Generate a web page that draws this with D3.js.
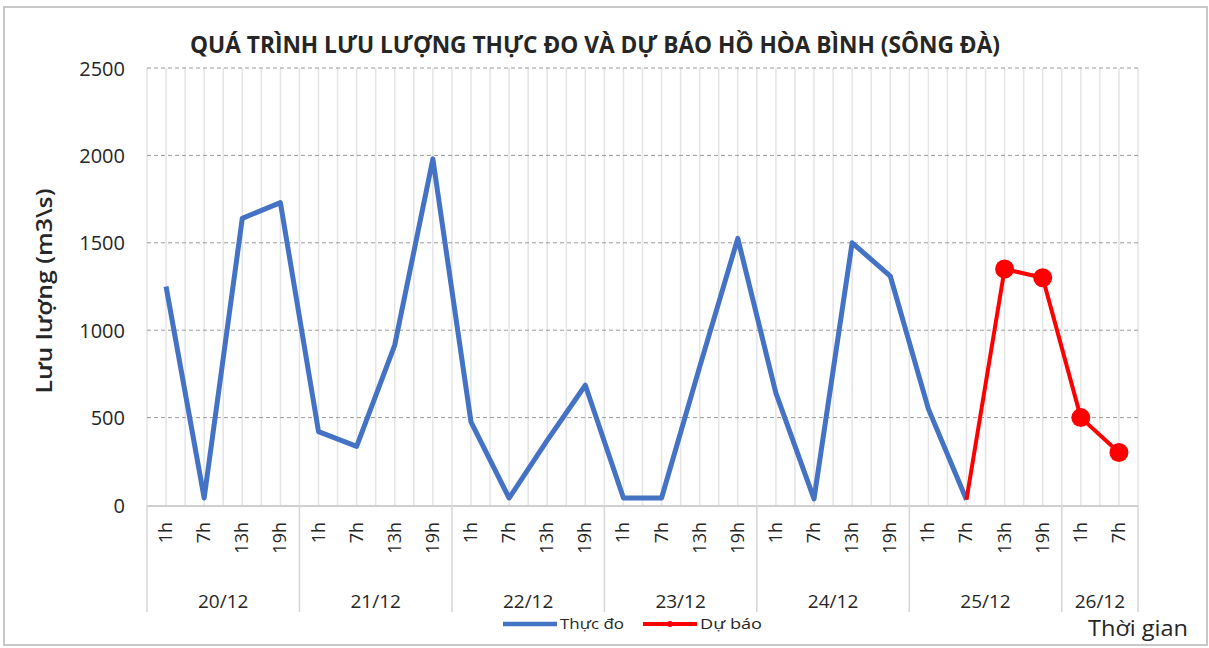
<!DOCTYPE html>
<html>
<head>
<meta charset="utf-8">
<script src="https://cdn.jsdelivr.net/npm/d3@7"></script>
<style>
  html, body { margin: 0; padding: 0; background: #fff; }
  svg { display: block; }
  text { font-family: "Open Sans", "Noto Sans", sans-serif; fill: #262626; }
</style>
</head>
<body>
<svg id="chart" width="1209" height="648"></svg>
<script>
// ---- data ----
const titleText = "QUÁ TRÌNH LƯU LƯỢNG THỰC ĐO VÀ DỰ BÁO HỒ HÒA BÌNH (SÔNG ĐÀ)";
const yTitle = "Lưu lượng (m3\\s)";
const xTitle = "Thời gian";
const hourLabels = ["1h","7h","13h","19h","1h","7h","13h","19h","1h","7h","13h","19h",
                    "1h","7h","13h","19h","1h","7h","13h","19h","1h","7h","13h","19h","1h","7h"];
const dayLabels = ["20/12","21/12","22/12","23/12","24/12","25/12","26/12"];
const dayCounts = [4,4,4,4,4,4,2];
const observed = [1250,40,1640,1730, 420,335,915,1980, 475,40,370,685,
                  40,40,790,1525, 640,35,1500,1310, 550,30, null,null,null,null];
const forecast = [null,null,null,null, null,null,null,null, null,null,null,null,
                  null,null,null,null, null,null,null,null, null,30, 1350,1300,500,300];
const yTicks = [0,500,1000,1500,2000,2500];
const seriesNames = ["Thực đo","Dự báo"];
const seriesColors = ["#4472C4","#FF0000"];

// ---- layout ----
const svg = d3.select("#chart");
const W = 1209, H = 648;
const plot = {left: 147, right: 1138, top: 68, bottom: 505};

// border
svg.append("rect").attr("x", 4).attr("y", 7).attr("width", W - 6).attr("height", H - 10)
   .attr("fill", "#fff").attr("stroke", "#c8c8c8").attr("stroke-width", 2);

const idx = d3.range(hourLabels.length);
const x = d3.scaleBand().domain(idx).range([plot.left, plot.right]).padding(0);
const y = d3.scaleLinear().domain([0, 2500]).range([plot.bottom, plot.top]);
const bw = x.bandwidth();

// vertical gridlines: band edges and centres
const vlines = [];
idx.forEach(i => { vlines.push(x(i)); vlines.push(x(i) + bw / 2); });
vlines.push(x(idx.length - 1) + bw);
svg.append("g").selectAll("line").data(vlines).join("line")
   .attr("x1", d => d).attr("x2", d => d)
   .attr("y1", plot.top).attr("y2", plot.bottom)
   .attr("stroke", "#e4e4e4").attr("stroke-width", 1.5);

// horizontal dashed gridlines
svg.append("g").selectAll("line").data(yTicks.filter(t => t > 0)).join("line")
   .attr("x1", plot.left).attr("x2", plot.right)
   .attr("y1", d => y(d)).attr("y2", d => y(d))
   .attr("stroke", "#9a9a9a").attr("stroke-width", 1).attr("stroke-dasharray", "4,3");

// y axis labels
const yAxis = d3.axisLeft(y).tickValues(yTicks).tickFormat(d3.format("d")).tickSize(0).tickPadding(22);
const yg = svg.append("g").attr("transform", `translate(${plot.left},0)`).call(yAxis);
yg.select(".domain").remove();
yg.selectAll("text").style("font-size", "20px").style("font-family", '"Open Sans", sans-serif')
  .attr("fill", "#404040").attr("dy", "0.35em");

// x axis line
svg.append("line").attr("x1", plot.left).attr("x2", plot.right)
   .attr("y1", plot.bottom + 1).attr("y2", plot.bottom + 1)
   .attr("stroke", "#d0d0d0").attr("stroke-width", 2);

// day separators in axis area
let starts = [0];
dayCounts.forEach((c, i) => starts.push(starts[i] + c));
const sepX = starts.map(s => s < idx.length ? x(s) : x(idx.length - 1) + bw);
svg.append("g").selectAll("line").data(sepX).join("line")
   .attr("x1", d => d).attr("x2", d => d)
   .attr("y1", plot.bottom).attr("y2", 612)
   .attr("stroke", "#d6d6d6").attr("stroke-width", 1.5);

// hour labels (rotated)
svg.append("g").selectAll("text").data(idx).join("text")
   .attr("transform", i => `translate(${x(i) + bw / 2 + 6},${plot.bottom + 17}) rotate(-90)`)
   .attr("text-anchor", "end")
   .style("font-size", "18px")
   .text(i => hourLabels[i]);

// day labels
svg.append("g").selectAll("text").data(dayLabels).join("text")
   .attr("x", (d, i) => (sepX[i] + sepX[i + 1]) / 2)
   .attr("y", 608)
   .attr("text-anchor", "middle")
   .style("font-size", "19px")
   .text(d => d);

// lines
const line = d3.line().defined(d => d.v != null).x(d => x(d.i) + bw / 2).y(d => y(d.v))
               .curve(d3.curveLinear);
const obsData = observed.map((v, i) => ({i, v}));
const fcData = forecast.map((v, i) => ({i, v}));
svg.append("path").datum(obsData).attr("d", line).attr("fill", "none")
   .attr("stroke", seriesColors[0]).attr("stroke-width", 5).attr("stroke-linejoin", "round");
svg.append("path").datum(fcData).attr("d", line).attr("fill", "none")
   .attr("stroke", seriesColors[1]).attr("stroke-width", 4).attr("stroke-linejoin", "round");
svg.append("g").selectAll("circle")
   .data(fcData.filter(d => d.v != null && observed[d.i] == null)).join("circle")
   .attr("cx", d => x(d.i) + bw / 2).attr("cy", d => y(d.v)).attr("r", 9.5)
   .attr("fill", seriesColors[1]);

// title
svg.append("text").attr("x", 595).attr("y", 53).attr("text-anchor", "middle")
   .style("font-size", "24px").style("font-weight", "bold").attr("fill", "#1a1a1a")
   .attr("textLength", 810).attr("lengthAdjust", "spacingAndGlyphs")
   .text(titleText);

// y title
svg.append("text").attr("transform", "translate(52,291) rotate(-90)")
   .attr("text-anchor", "middle").style("font-size", "22px").style("font-weight", "600")
   .attr("fill", "#1a1a1a")
   .attr("textLength", 205).attr("lengthAdjust", "spacingAndGlyphs")
   .text(yTitle);

// x title
svg.append("text").attr("x", 1188).attr("y", 636).attr("text-anchor", "end")
   .style("font-size", "21px").attr("fill", "#262626")
   .attr("textLength", 100).attr("lengthAdjust", "spacingAndGlyphs")
   .text(xTitle);

// legend
const legend = svg.append("g");
const legX = [503, 643];
seriesNames.forEach((name, k) => {
  const g = legend.append("g").attr("transform", `translate(${legX[k]},624)`);
  g.append("line").attr("x1", 0).attr("x2", 54).attr("y1", 0).attr("y2", 0)
   .attr("stroke", seriesColors[k]).attr("stroke-width", k === 0 ? 4.5 : 4);
  if (k === 1) g.append("circle").attr("cx", 27).attr("cy", 0).attr("r", 3).attr("fill", seriesColors[k]);
  g.append("text").attr("x", 57).attr("y", 5).style("font-size", "14px")
   .attr("textLength", k === 0 ? 64 : 62).attr("lengthAdjust", "spacingAndGlyphs")
   .text(name);
});
</script>
</body>
</html>
